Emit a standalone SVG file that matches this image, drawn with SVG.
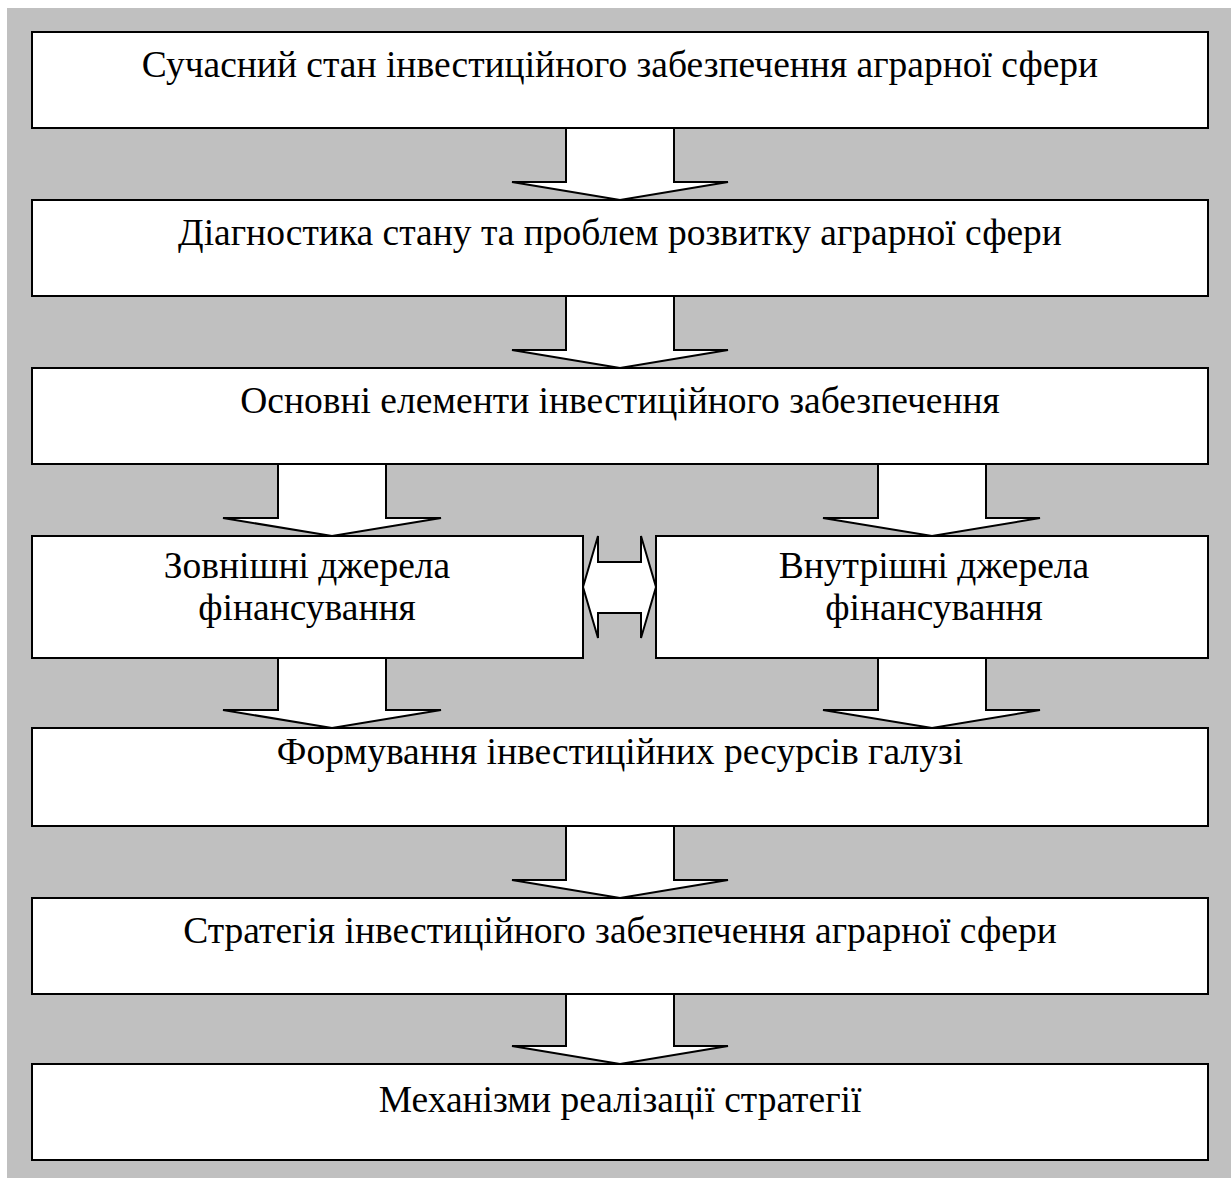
<svg xmlns="http://www.w3.org/2000/svg" width="1231" height="1178" viewBox="0 0 1231 1178">
<style>
.box{fill:#fff;stroke:#000;stroke-width:2}
.arr{fill:#fff;stroke:#000;stroke-width:2;stroke-linejoin:miter}
.t{font-family:"Liberation Serif","Times New Roman",serif;font-size:37.5px;fill:#000;text-anchor:middle}
</style>
<rect x="7" y="8" width="1224" height="1170" fill="#c0c0c0"/>
<g id="connectors">
<polygon class="arr" points="566,128 674,128 674,182 728,182 620,200 512,182 566,182"/>
<polygon class="arr" points="566,296 674,296 674,350 728,350 620,368 512,350 566,350"/>
<polygon class="arr" points="278,464 386,464 386,518 441,518 332,536 223,518 278,518"/>
<polygon class="arr" points="878,464 986,464 986,518 1040,518 932,536 823,518 878,518"/>
<polygon class="arr" points="278,658 386,658 386,710 441,710 332,728 223,710 278,710"/>
<polygon class="arr" points="878,658 986,658 986,710 1040,710 932,728 823,710 878,710"/>
<polygon class="arr" points="566,826 674,826 674,880 728,880 620,898 512,880 566,880"/>
<polygon class="arr" points="566,994 674,994 674,1046 728,1046 620,1064 512,1046 566,1046"/>
<polygon class="arr" points="583,587 598,536 598,562 641,562 641,536 656,587 641,638 641,613 598,613 598,638"/>
</g>
<g id="n1"><rect class="box" x="32" y="32" width="1176" height="96"/><text class="t" x="620" y="77">Сучасний стан інвестиційного забезпечення аграрної сфери</text></g>
<g id="n2"><rect class="box" x="32" y="200" width="1176" height="96"/><text class="t" x="620" y="245">Діагностика стану та проблем розвитку аграрної сфери</text></g>
<g id="n3"><rect class="box" x="32" y="368" width="1176" height="96"/><text class="t" x="620" y="413">Основні елементи інвестиційного забезпечення</text></g>
<g id="n4"><rect class="box" x="32" y="536" width="551" height="122"/><text class="t" x="307" y="578">Зовнішні джерела</text><text class="t" x="307" y="620">фінансування</text></g>
<g id="n5"><rect class="box" x="656" y="536" width="552" height="122"/><text class="t" x="934" y="578">Внутрішні джерела</text><text class="t" x="934" y="620">фінансування</text></g>
<g id="n6"><rect class="box" x="32" y="728" width="1176" height="98"/><text class="t" x="620" y="764">Формування інвестиційних ресурсів галузі</text></g>
<g id="n7"><rect class="box" x="32" y="898" width="1176" height="96"/><text class="t" x="620" y="943">Стратегія інвестиційного забезпечення аграрної сфери</text></g>
<g id="n8"><rect class="box" x="32" y="1064" width="1176" height="96"/><text class="t" x="620" y="1112">Механізми реалізації стратегії</text></g>
</svg>
